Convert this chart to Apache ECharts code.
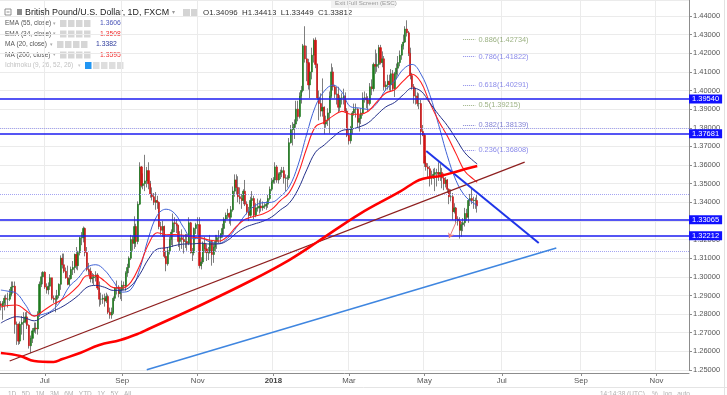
<!DOCTYPE html>
<html><head><meta charset="utf-8">
<script src="https://cdn.jsdelivr.net/npm/echarts@6/dist/echarts.min.js"></script>
<style>html,body{margin:0;padding:0;background:#fff}#c{width:727px;height:395px}</style>
</head><body><div id="c"></div>
<script>
// ---------- DATA ----------
const FONT = '"Liberation Sans", Arial, sans-serif';
// daily OHLC [open, high, low, close] — 29 May 2017 .. 31 Aug 2017
const bars2017a = [
[1.2855,1.2870,1.2820,1.2845],[1.2845,1.2870,1.2770,1.2860],[1.2860,1.2900,1.2820,1.2885],[1.2885,1.2905,1.2845,1.2880],[1.2880,1.2915,1.2835,1.2880],
[1.2880,1.2935,1.2870,1.2905],[1.2905,1.2975,1.2895,1.2945],[1.2945,1.2975,1.2910,1.2950],[1.2950,1.2975,1.2695,1.2745],[1.2745,1.2760,1.2635,1.2745],
[1.2745,1.2750,1.2635,1.2655],[1.2655,1.2760,1.2640,1.2745],[1.2745,1.2790,1.2690,1.2755],[1.2755,1.2810,1.2660,1.2760],[1.2760,1.2810,1.2750,1.2785],
[1.2785,1.2815,1.2720,1.2740],[1.2740,1.2745,1.2615,1.2630],[1.2630,1.2685,1.2590,1.2670],[1.2670,1.2725,1.2645,1.2710],[1.2710,1.2755,1.2700,1.2725],
[1.2725,1.2755,1.2695,1.2720],[1.2720,1.2815,1.2690,1.2800],[1.2800,1.2975,1.2785,1.2960],[1.2960,1.3025,1.2945,1.3000],[1.3000,1.3030,1.2960,1.3025],
[1.3025,1.3030,1.2935,1.2945],[1.2945,1.2965,1.2910,1.2930],[1.2930,1.2970,1.2905,1.2950],[1.2950,1.3015,1.2930,1.2995],[1.2995,1.2995,1.2875,1.2885],
[1.2885,1.2900,1.2860,1.2880],[1.2880,1.2900,1.2810,1.2880],[1.2880,1.2930,1.2850,1.2900],[1.2900,1.2965,1.2885,1.2960],[1.2960,1.3115,1.2930,1.3100],
[1.3100,1.3125,1.3045,1.3065],[1.3065,1.3125,1.3020,1.3030],[1.3030,1.3050,1.2990,1.2995],[1.2995,1.3060,1.2955,1.2960],[1.2960,1.3010,1.2950,1.2990],
[1.2990,1.3055,1.2985,1.3040],[1.3040,1.3085,1.3010,1.3050],[1.3050,1.3125,1.3020,1.3120],[1.3120,1.3160,1.3040,1.3060],[1.3060,1.3140,1.3035,1.3130],
[1.3130,1.3215,1.3115,1.3210],[1.3210,1.3240,1.3170,1.3210],[1.3210,1.3270,1.3185,1.3260],[1.3260,1.3265,1.3110,1.3130],[1.3130,1.3160,1.3030,1.3040],
[1.3040,1.3075,1.3010,1.3030],[1.3030,1.3050,1.2970,1.2990],[1.2990,1.3020,1.2965,1.2995],[1.2995,1.3015,1.2955,1.3000],[1.3000,1.3030,1.2975,1.3010],
[1.3010,1.3020,1.2930,1.2940],[1.2940,1.2975,1.2840,1.2880],[1.2880,1.2915,1.2850,1.2880],[1.2880,1.2905,1.2855,1.2885],[1.2885,1.2910,1.2840,1.2870],
[1.2870,1.2915,1.2860,1.2895],[1.2895,1.2905,1.2800,1.2810],[1.2810,1.2835,1.2775,1.2795],[1.2795,1.2835,1.2775,1.2810],[1.2810,1.2895,1.2800,1.2885],
[1.2885,1.2945,1.2870,1.2940],[1.2940,1.2980,1.2905,1.2945],[1.2945,1.2955,1.2890,1.2910],[1.2910,1.2945,1.2880,1.2930]
];
// 1 Sep 2017 .. 29 Dec 2017
const bars2017b = [
[1.2930,1.2980,1.2870,1.2955],
[1.2955,1.2975,1.2930,1.2950],[1.2950,1.3030,1.2925,1.3020],[1.3020,1.3070,1.3000,1.3050],[1.3050,1.3110,1.3020,1.3100],[1.3100,1.3225,1.3090,1.3200],
[1.3200,1.3220,1.3140,1.3180],[1.3180,1.3325,1.3150,1.3270],[1.3270,1.3285,1.3160,1.3190],[1.3190,1.3405,1.3175,1.3390],[1.3390,1.3615,1.3385,1.3590],
[1.3590,1.3595,1.3480,1.3490],[1.3490,1.3555,1.3470,1.3500],[1.3500,1.3655,1.3460,1.3515],[1.3515,1.3590,1.3480,1.3570],[1.3570,1.3615,1.3470,1.3500],
[1.3500,1.3515,1.3425,1.3445],[1.3445,1.3480,1.3410,1.3430],[1.3430,1.3450,1.3385,1.3400],[1.3400,1.3455,1.3360,1.3410],[1.3410,1.3435,1.3365,1.3400],
[1.3400,1.3405,1.3255,1.3270],[1.3270,1.3295,1.3225,1.3250],[1.3250,1.3300,1.3215,1.3270],[1.3270,1.3275,1.3100,1.3110],[1.3110,1.3140,1.3030,1.3070],
[1.3070,1.3160,1.3060,1.3140],[1.3140,1.3215,1.3120,1.3200],[1.3200,1.3255,1.3170,1.3240],[1.3240,1.3340,1.3160,1.3290],[1.3290,1.3320,1.3240,1.3285],
[1.3285,1.3310,1.3235,1.3275],[1.3275,1.3280,1.3160,1.3190],[1.3190,1.3245,1.3140,1.3210],[1.3210,1.3255,1.3150,1.3200],[1.3200,1.3220,1.3125,1.3190],
[1.3190,1.3230,1.3155,1.3190],[1.3190,1.3230,1.3140,1.3180],[1.3180,1.3320,1.3170,1.3290],[1.3290,1.3295,1.3125,1.3130],[1.3130,1.3155,1.3085,1.3130],
[1.3130,1.3265,1.3115,1.3260],[1.3260,1.3290,1.3230,1.3280],[1.3280,1.3320,1.3225,1.3280],[1.3280,1.3320,1.3045,1.3060],[1.3060,1.3105,1.3040,1.3080],
[1.3080,1.3190,1.3070,1.3180],[1.3180,1.3215,1.3130,1.3150],[1.3150,1.3175,1.3085,1.3130],[1.3130,1.3160,1.3090,1.3130],[1.3130,1.3225,1.3125,1.3190],
[1.3190,1.3195,1.3060,1.3120],[1.3120,1.3180,1.3075,1.3160],[1.3160,1.3225,1.3135,1.3190],[1.3190,1.3225,1.3150,1.3210],[1.3210,1.3250,1.3180,1.3210],
[1.3210,1.3235,1.3185,1.3230],[1.3230,1.3285,1.3210,1.3260],[1.3260,1.3320,1.3225,1.3310],[1.3310,1.3345,1.3290,1.3330],[1.3330,1.3365,1.3310,1.3340],
[1.3340,1.3345,1.3285,1.3320],[1.3320,1.3380,1.3275,1.3360],[1.3360,1.3485,1.3350,1.3460],[1.3460,1.3550,1.3430,1.3520],[1.3520,1.3550,1.3440,1.3480],
[1.3480,1.3540,1.3400,1.3430],[1.3430,1.3480,1.3390,1.3420],[1.3420,1.3445,1.3365,1.3410],[1.3410,1.3470,1.3390,1.3460],[1.3460,1.3520,1.3380,1.3390],
[1.3390,1.3405,1.3335,1.3350],[1.3350,1.3375,1.3300,1.3330],[1.3330,1.3430,1.3320,1.3410],[1.3410,1.3460,1.3380,1.3420],[1.3420,1.3435,1.3310,1.3330],
[1.3330,1.3395,1.3320,1.3370],[1.3370,1.3420,1.3350,1.3370],[1.3370,1.3410,1.3340,1.3380],[1.3380,1.3420,1.3350,1.3370],[1.3370,1.3405,1.3355,1.3380],
[1.3380,1.3395,1.3365,1.3380],[1.3380,1.3405,1.3360,1.3390],[1.3390,1.3440,1.3370,1.3420],[1.3420,1.3485,1.3410,1.3470],[1.3470,1.3530,1.3460,1.3510]
];
// 1 Jan 2018 .. 12 Jun 2018
const bars2018 = [
[1.3510,1.3535,1.3500,1.3520],[1.3520,1.3615,1.3500,1.3590],[1.3590,1.3600,1.3505,1.3520],[1.3520,1.3560,1.3500,1.3550],[1.3550,1.3575,1.3525,1.3560],
[1.3560,1.3590,1.3535,1.3570],[1.3570,1.3590,1.3500,1.3530],[1.3530,1.3550,1.3460,1.3530],[1.3530,1.3545,1.3480,1.3530],[1.3530,1.3745,1.3520,1.3720],
[1.3720,1.3815,1.3715,1.3790],[1.3790,1.3830,1.3705,1.3800],[1.3800,1.3845,1.3740,1.3820],[1.3820,1.3945,1.3800,1.3900],[1.3900,1.3945,1.3835,1.3860],
[1.3860,1.3990,1.3850,1.3970],[1.3970,1.4025,1.3930,1.4000],[1.4000,1.4250,1.3990,1.4240],[1.4240,1.4345,1.4150,1.4170],[1.4170,1.4240,1.4050,1.4150],
[1.4150,1.4170,1.4005,1.4030],[1.4030,1.4145,1.3960,1.4100],[1.4100,1.4230,1.4060,1.4190],[1.4190,1.4280,1.4150,1.4270],[1.4270,1.4285,1.4120,1.4140],
[1.4140,1.4145,1.3950,1.3960],[1.3960,1.4000,1.3840,1.3930],[1.3930,1.3985,1.3860,1.3890],[1.3890,1.4065,1.3860,1.3910],[1.3910,1.3915,1.3765,1.3820],
[1.3820,1.3865,1.3800,1.3840],[1.3840,1.3905,1.3810,1.3880],[1.3880,1.3995,1.3770,1.3970],[1.3970,1.4145,1.3960,1.4100],[1.4100,1.4125,1.4000,1.4020],
[1.4020,1.4030,1.3960,1.3980],[1.3980,1.4020,1.3925,1.3980],[1.3980,1.4020,1.3880,1.3910],[1.3910,1.3975,1.3890,1.3960],[1.3960,1.3985,1.3925,1.3960],
[1.3960,1.4010,1.3925,1.3970],[1.3970,1.3990,1.3880,1.3890],[1.3890,1.3905,1.3750,1.3760],[1.3760,1.3790,1.3710,1.3730],[1.3730,1.3810,1.3715,1.3800],
[1.3800,1.3890,1.3765,1.3880],[1.3880,1.3930,1.3865,1.3900],[1.3900,1.3930,1.3855,1.3900],[1.3900,1.3905,1.3800,1.3830],[1.3830,1.3870,1.3780,1.3850],
[1.3850,1.3905,1.3820,1.3880],[1.3880,1.3990,1.3865,1.3960],[1.3960,1.3995,1.3935,1.3960],[1.3960,1.3985,1.3905,1.3950],[1.3950,1.3970,1.3890,1.3930],
[1.3930,1.4040,1.3920,1.4020],[1.4020,1.4060,1.3975,1.4010],[1.4010,1.4150,1.3995,1.4140],[1.4140,1.4220,1.4090,1.4130],[1.4130,1.4200,1.4100,1.4140],
[1.4140,1.4245,1.4120,1.4230],[1.4230,1.4245,1.4140,1.4150],[1.4150,1.4210,1.4125,1.4170],[1.4170,1.4185,1.4000,1.4020],[1.4020,1.4050,1.4000,1.4030],
[1.4030,1.4085,1.4005,1.4050],[1.4050,1.4085,1.4000,1.4030],[1.4030,1.4115,1.3995,1.4090],[1.4090,1.4110,1.4000,1.4010],[1.4010,1.4100,1.3965,1.4090],
[1.4090,1.4145,1.4060,1.4120],[1.4120,1.4185,1.4080,1.4150],[1.4150,1.4215,1.4130,1.4190],[1.4190,1.4250,1.4165,1.4240],[1.4240,1.4300,1.4220,1.4260],
[1.4260,1.4345,1.4255,1.4330],[1.4330,1.4377,1.4290,1.4310],[1.4310,1.4320,1.4185,1.4200],[1.4200,1.4230,1.4060,1.4080],[1.4080,1.4095,1.4005,1.4020],
[1.4020,1.4035,1.3930,1.3970],[1.3970,1.4015,1.3925,1.3970],[1.3970,1.3990,1.3915,1.3930],[1.3930,1.3985,1.3900,1.3930],[1.3930,1.3950,1.3710,1.3780],
[1.3780,1.3815,1.3755,1.3760],[1.3760,1.3770,1.3590,1.3610],[1.3610,1.3650,1.3570,1.3590],[1.3590,1.3610,1.3535,1.3580],[1.3580,1.3595,1.3485,1.3530],
[1.3530,1.3570,1.3495,1.3540],[1.3540,1.3580,1.3525,1.3550],[1.3550,1.3585,1.3460,1.3560],[1.3560,1.3580,1.3485,1.3560],[1.3560,1.3615,1.3515,1.3550],
[1.3550,1.3605,1.3515,1.3560],[1.3560,1.3585,1.3475,1.3530],[1.3530,1.3555,1.3465,1.3500],[1.3500,1.3535,1.3480,1.3520],[1.3520,1.3525,1.3450,1.3470],
[1.3470,1.3475,1.3390,1.3430],[1.3430,1.3470,1.3405,1.3430],[1.3430,1.3450,1.3305,1.3350],[1.3350,1.3395,1.3340,1.3370],[1.3370,1.3375,1.3290,1.3310],
[1.3310,1.3325,1.3275,1.3300],[1.3300,1.3320,1.3205,1.3250],[1.3250,1.3295,1.3215,1.3280],[1.3280,1.3315,1.3245,1.3290],[1.3290,1.3370,1.3270,1.3340],
[1.3340,1.3365,1.3300,1.3320],[1.3320,1.3415,1.3290,1.3410],[1.3410,1.3445,1.3380,1.3420],[1.3420,1.3475,1.3390,1.3410],[1.3410,1.3430,1.3365,1.3410],
[1.3410,1.3425,1.3365,1.3410],[1.34096,1.34413,1.33449,1.33812]
];

// indicator readings (bar index -> value)
const maIdx = [0,4,9,14,19,24,29,34,39,44,49,54,59,64,69,74,79,84,89,94,99,104,109,114,119,124,129,134,139,144,149,154,159,164,169,174,179,184,189,194,199,204,209,214,219,224,229,234,239,244,249,254,259,264,269,271];
const ma20Vals = [1.2929,1.2923,1.2911,1.2850,1.2791,1.2799,1.2819,1.2870,1.2949,1.2993,1.3050,1.3065,1.3036,1.2976,1.2918,1.2933,1.3041,1.3210,1.3330,1.3363,1.3339,1.3264,1.3206,1.3206,1.3187,1.3180,1.3207,1.3265,1.3332,1.3378,1.3398,1.3400,1.3431,1.3483,1.3598,1.3766,1.3916,1.3997,1.4029,1.3992,1.3913,1.3906,1.3899,1.3932,1.4005,1.4051,1.4115,1.4140,1.4088,1.3978,1.3818,1.3650,1.3516,1.3435,1.3395,1.3382];
const ema34Vals = [1.2838,1.2846,1.2849,1.2821,1.2789,1.2817,1.2849,1.2873,1.2907,1.2951,1.3006,1.3006,1.2977,1.2942,1.2940,1.2972,1.3061,1.3176,1.3237,1.3226,1.3227,1.3223,1.3213,1.3209,1.3196,1.3192,1.3218,1.3271,1.3309,1.3324,1.3337,1.3362,1.3409,1.3452,1.3549,1.3690,1.3806,1.3830,1.3864,1.3888,1.3873,1.3873,1.3889,1.3940,1.3987,1.4004,1.4052,1.4087,1.4044,1.3935,1.3838,1.3756,1.3660,1.3567,1.3523,1.3508];
const ema55Vals = [1.2752,1.2772,1.2786,1.2778,1.2764,1.2787,1.2813,1.2835,1.2864,1.2900,1.2944,1.2954,1.2944,1.2927,1.2928,1.2951,1.3013,1.3096,1.3149,1.3156,1.3168,1.3176,1.3177,1.3180,1.3176,1.3177,1.3196,1.3235,1.3266,1.3283,1.3298,1.3321,1.3359,1.3395,1.3468,1.3574,1.3669,1.3708,1.3750,1.3785,1.3792,1.3805,1.3827,1.3870,1.3912,1.3936,1.3978,1.4013,1.3997,1.3934,1.3871,1.3812,1.3740,1.3666,1.3621,1.3606];
const ma200Idx = [0,11,19,30,35,45,56,68,79,84,113,143,164,180,204,227,233,238,244,250,261,271];
const ma200Vals = [1.2591,1.2575,1.2548,1.2543,1.2559,1.2591,1.2634,1.2661,1.2698,1.2720,1.2845,1.2983,1.3090,1.3187,1.3337,1.3457,1.3493,1.3520,1.3534,1.3541,1.3570,1.3595];

// horizontal levels
const levelPrices = [1.39540, 1.37681, 1.33065, 1.32212];
const lastClose = 1.33812;
const dottedLevels = [1.3800, 1.3441, 1.3139];
// fibonacci
const fibRatios = ['0.886','0.786','0.618','0.5','0.382','0.236'];
const fibPrices = [1.42734, 1.41822, 1.40291, 1.39215, 1.38139, 1.36808];
const fibColors = ['#6f8f4c','#5757e0','#5757e0','#6f8f4c','#4a4ac0','#5757e0'];
const fibFrom = 263, fibTo = 270;
// trend lines [barIdxA, priceA, barIdxB, priceB]
const brownLine = [5, 1.2548, 298, 1.3616];
const longBlueLine = [83, 1.2501, 316, 1.3155];
const shortBlueLine = [242, 1.3675, 306, 1.3182];
const redArrow = [259, 1.3294, 255, 1.3208];
// legend
const legendNames = ['EMA (55, close)','EMA (34, close)','MA (20, close)','MA (200, close)'];
const legendValues = ['1.3606','1.3508','1.3382','1.3595'];
const ohlcText = 'O1.34096  H1.34413  L1.33449  C1.33812';
const monthNames = ['Jan','Feb','Mar','Apr','May','Jun','Jul','Aug','Sep','Oct','Nov','Dec'];

// ---------- BUILD ----------
const N = 392;
const dates = [];
for (let t = Date.UTC(2017,4,29); dates.length < N; t += 86400000) {
  const d = new Date(t), wd = d.getUTCDay();
  if (wd !== 0 && wd !== 6) dates.push(d.toISOString().slice(0,10));
}
const monthOf = s => +s.slice(5,7) - 1;
const labelSet = new Set();
for (let i = 1; i < N; i++) if (monthOf(dates[i]) !== monthOf(dates[i-1]) && monthOf(dates[i]) % 2 === 0) labelSet.add(i);
const showIdx = (i) => labelSet.has(i);

const bars = bars2017a.concat(bars2017b, bars2018);
const wickData = bars.map(b => [b[0], b[3], b[2], b[1]]);
const bodyData = bars.map(b => [b[0], b[3], Math.min(b[0],b[3]), Math.max(b[0],b[3])]);
const pts = (idx, vals) => idx.map((k,j) => [dates[k], vals[j]]);

const levelColor = '#1c1cf0';
const markData = [];
levelPrices.forEach(p => markData.push({
  yAxis: p, lineStyle: {color: levelColor, width: 1.6, type: 'solid'},
  label: {show: true, position: 'end', distance: 0, formatter: p.toFixed(5), color: '#fff',
    backgroundColor: '#1010ff', padding: [1,3,0,3], fontSize: 7.5, fontFamily: FONT}
}));
markData.push({yAxis: lastClose, lineStyle: {opacity: 0},
  label: {show: true, position: 'end', distance: 0, formatter: lastClose.toFixed(5), color: '#fff',
    backgroundColor: '#ff1010', padding: [1,3,0,3], fontSize: 7.5, fontFamily: FONT}});
dottedLevels.forEach(p => markData.push({yAxis: p, lineStyle: {color: '#a4a4f2', width: 1, type: 'dotted'}, label: {show: false}}));
fibRatios.forEach((r, k) => markData.push([
  {coord: [dates[fibFrom], fibPrices[k]], lineStyle: {color: fibColors[k], width: 1, type: 'dotted', opacity: 0.7},
   label: {show: true, position: 'end', distance: 3, formatter: r + '(' + fibPrices[k].toFixed(5) + ')',
     color: fibColors[k], fontSize: 7.4, fontFamily: FONT, padding: [8,0,0,0]}},
  {coord: [dates[fibTo], fibPrices[k]]}
]));
const seg = (L, color, width, endSym) => [
  {coord: [dates[L[0]], L[1]], symbol: 'none', lineStyle: {color, width, type: 'solid'}, label: {show: false}},
  {coord: [dates[L[2]], L[3]], symbol: endSym || 'none', symbolSize: 5}
];
markData.push(seg(brownLine, '#8e1f1f', 1.2));
markData.push(seg(longBlueLine, '#3f86e0', 1.6));
markData.push(seg(shortBlueLine, '#1f35e8', 2));
markData.push(seg(redArrow, '#ec7a7a', 1, 'arrow'));

// legend graphics
const g = [];
const txt = (x, y, text, fill, size, weight) => g.push({type: 'text', x, y, silent: true,
  style: {text, fill, fontSize: size, fontFamily: FONT, fontWeight: weight || 'normal', verticalAlign: 'middle'}});
const box = (x, y, w, h, fill) => g.push({type: 'rect', silent: true, shape: {x, y, width: w, height: h}, style: {fill}});
// row 1
g.push({type: 'rect', silent: true, shape: {x: 5, y: 9, width: 6, height: 6}, style: {fill: '#fff', stroke: '#777', lineWidth: 0.8}});
g.push({type: 'line', silent: true, shape: {x1: 6.5, y1: 12, x2: 9.5, y2: 12}, style: {stroke: '#777', lineWidth: 0.8}});
box(17, 9, 5, 6, '#8a8a8a');
txt(25, 12.5, 'British Pound/U.S. Dollar, 1D, FXCM', '#222', 8.9);
txt(172, 12.5, '▾', '#999', 6);
box(183, 9, 7, 7, '#d4d4d4'); box(191, 9, 7, 7, '#d4d4d4');
txt(203, 12.5, ohlcText, '#333', 7.9);
// rows 2-5
const rowY = [23.5, 34, 44.5, 55];
const valColors = ['#4a55b8', '#f03030', '#2c3a9c', '#f03030'];
const valX = [100, 100, 96, 100];
const boxX = [60, 60, 57, 60];
legendNames.forEach((name, k) => {
  txt(5, rowY[k], name, '#555', 6.5);
  txt(boxX[k] - 7, rowY[k], '▾', '#aaa', 5);
  for (let j = 0; j < 4; j++) box(boxX[k] + j * 8, rowY[k] - 3.5, 6.5, 7, '#d6d6d6');
  txt(valX[k], rowY[k], legendValues[k], valColors[k], 6.8);
});
txt(5, 65.5, 'Ichimoku (9, 26, 52, 26)', '#c2c2c2', 6.5);
txt(78, 65.5, '▾', '#ccc', 5);
box(85, 62, 6.5, 7, '#2196f3');
for (let j = 1; j < 5; j++) box(85 + j * 8, 62, 6.5, 7, '#dedede');
// top tooltip and bottom toolbar
box(331, -1, 64, 9, '#f2f2f2');
txt(335, 3.5, 'Exit Full Screen (ESC)', '#9a9a9a', 6.2);
g.push({type: 'line', silent: true, shape: {x1: 0, y1: 387.5, x2: 727, y2: 387.5}, style: {stroke: '#e4e4e4', lineWidth: 1}});
txt(8, 394, '1D   5D   1M   3M   6M   YTD   1Y   5Y   All', '#b0b0b0', 6.5);
txt(600, 394, '14:14:38 (UTC)    %   log   auto', '#b0b0b0', 6.5);
box(724, 0, 1, 395, '#e2e2e2');

const chart = echarts.init(document.getElementById('c'), null, {renderer: 'canvas'});
chart.setOption({
  animation: false,
  backgroundColor: '#ffffff',
  grid: {left: 0, right: 38, top: 0, bottom: 25, containLabel: false},
  xAxis: {
    type: 'category', data: dates, boundaryGap: true, offset: 3,
    axisLine: {lineStyle: {color: '#8c8c8c', width: 1}},
    axisTick: {show: true, interval: showIdx, length: 3, alignWithLabel: true, lineStyle: {color: '#8c8c8c'}},
    splitLine: {show: true, interval: showIdx, lineStyle: {color: '#ebebeb', width: 1}},
    axisLabel: {
      interval: showIdx, margin: 4, color: '#555', fontSize: 7.8, fontFamily: FONT,
      formatter: v => { const m = monthOf(v); return m === 0 ? '{b|' + v.slice(0,4) + '}' : monthNames[m]; },
      rich: {b: {fontWeight: 'bold', color: '#444', fontSize: 7.8, fontFamily: FONT}}
    }
  },
  yAxis: {
    type: 'value', position: 'right', min: 1.25, max: 1.448588, interval: 0.01, scale: true,
    axisLine: {show: true, lineStyle: {color: '#8c8c8c'}},
    axisTick: {show: true, length: 3, lineStyle: {color: '#8c8c8c'}},
    splitLine: {show: true, lineStyle: {color: '#ebebeb'}},
    axisLabel: {margin: 4, color: '#555', fontSize: 7.5, fontFamily: FONT, showMaxLabel: false,
      formatter: v => Math.abs(v * 100 - Math.round(v * 100)) < 1e-6 ? v.toFixed(5) : ''}
  },
  series: [
    {type: 'candlestick', name: 'wick', data: wickData, barWidth: 0.9, z: 2, clip: true,
     itemStyle: {color: '#6f6f6f', color0: '#6f6f6f', borderColor: '#6f6f6f', borderColor0: '#6f6f6f', borderWidth: 0.9}},
    {type: 'candlestick', name: 'body', data: bodyData, barWidth: 1.6, z: 3, clip: true,
     itemStyle: {color: '#1f7a1f', color0: '#d01414', borderColor: '#1f7a1f', borderColor0: '#d01414', borderWidth: 0.6}},
    {type: 'line', name: 'MA20', data: pts(maIdx, ma20Vals), smooth: 0.4, showSymbol: false, z: 4,
     lineStyle: {color: '#3f62d6', width: 1}},
    {type: 'line', name: 'EMA34', data: pts(maIdx, ema34Vals), smooth: 0.4, showSymbol: false, z: 4,
     lineStyle: {color: '#ff1f1f', width: 1.1}},
    {type: 'line', name: 'EMA55', data: pts(maIdx, ema55Vals), smooth: 0.4, showSymbol: false, z: 4,
     lineStyle: {color: '#24308a', width: 1}},
    {type: 'line', name: 'MA200', data: pts(ma200Idx, ma200Vals), smooth: 0.4, showSymbol: false, z: 5,
     lineStyle: {color: '#ff0000', width: 2.6},
     markLine: {silent: true, precision: 6, symbol: ['none','none'], animation: false, data: markData}}
  ],
  graphic: g
});
</script></body></html>
